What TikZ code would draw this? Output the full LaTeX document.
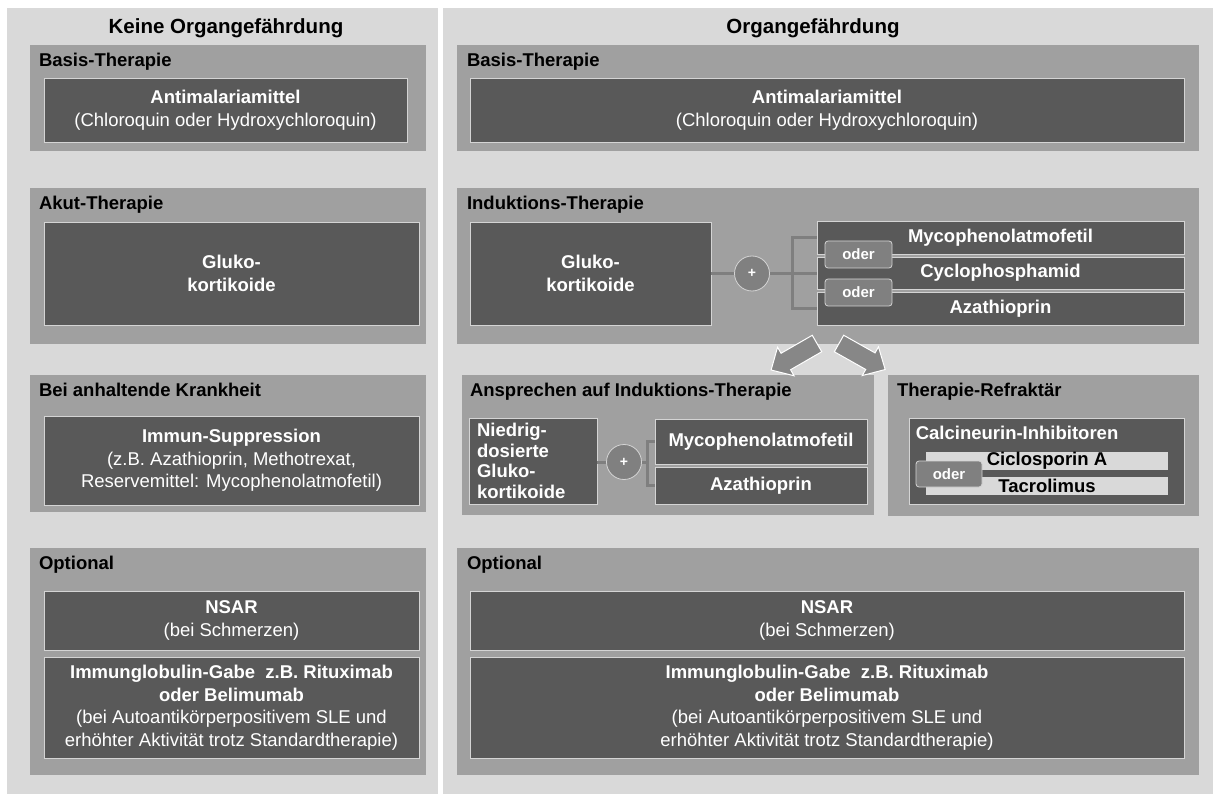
\documentclass[tikz,border=0pt]{standalone}
\usepackage{fontspec}
\setmainfont{Liberation Sans}
\definecolor{pagegray}{HTML}{D9D9D9}
\definecolor{secgray}{HTML}{A0A0A0}
\definecolor{boxgray}{HTML}{595959}
\definecolor{rimgray}{HTML}{D4D4D4}
\definecolor{odergray}{HTML}{808080}
\definecolor{wiregray}{HTML}{7F7F7F}
\definecolor{arrowgray}{HTML}{878787}
\newcommand{\txt}{\fontsize{18.5}{22.5}\selectfont}
\begin{document}
\begin{tikzpicture}[x=1pt,y=-1pt,
  every node/.style={inner sep=0pt,font=\txt},
  section/.style={fill=secgray},
  title/.style={anchor=base west,font=\txt\bfseries},
  drug/.style={draw=rimgray,fill=boxgray,line width=0.8pt,text=white,align=center},
  bar/.style={fill=pagegray,font=\txt\bfseries,minimum width=242pt,minimum height=18pt},
  oderbox/.style={draw=rimgray,fill=odergray,rounded corners=3pt,line width=0.8pt,text=white,font=\fontsize{15}{18}\selectfont\bfseries,minimum width=67pt,minimum height=27pt},
  plus/.style={circle,draw=rimgray,fill=odergray,line width=0.8pt,minimum size=35pt,text=white,font=\fontsize{14}{14}\selectfont\bfseries},
  wire/.style={wiregray,line width=3pt},
  blockarrow/.style={fill=arrowgray,draw=white,line width=1pt}]
\fill[white] (0,0) rectangle (1213,794);
\fill[pagegray] (7,8) rectangle (438,794);
\fill[pagegray] (443,8) rectangle (1213,794);
\node[font=\fontsize{20.5}{24}\selectfont\bfseries] (hKeine) at (226,28) {Keine Organgefährdung};
\node[font=\fontsize{20.5}{24}\selectfont\bfseries] (hOrgan) at (813,28) {Organgefährdung};

\node[section,minimum width=396pt,minimum height=106pt] (lBasis) at (228,98) {};
\node[section,minimum width=396pt,minimum height=156pt] (lAkut) at (228,266) {};
\node[section,minimum width=396pt,minimum height=137pt] (lAnh) at (228,443.5) {};
\node[section,minimum width=396pt,minimum height=227pt] (lOpt) at (228,661.5) {};
\node[section,minimum width=742pt,minimum height=106pt] (rBasis) at (828,98) {};
\node[section,minimum width=742pt,minimum height=156pt] (rInd) at (828,266) {};
\node[section,minimum width=412pt,minimum height=140pt] (rAns) at (668,445) {};
\node[section,minimum width=311pt,minimum height=141pt] (rRef) at (1043.5,445.5) {};
\node[section,minimum width=742pt,minimum height=227pt] (rOpt) at (828,661.5) {};

\node[title] at ([xshift=9pt,yshift=-22pt]lBasis.north west) {Basis-Therapie};
\node[title] at ([xshift=9pt,yshift=-22pt]lAkut.north west) {Akut-Therapie};
\node[title] at ([xshift=9pt,yshift=-22pt]lAnh.north west) {Bei anhaltende Krankheit};
\node[title] at ([xshift=9pt,yshift=-22pt]lOpt.north west) {Optional};
\node[title] at ([xshift=10pt,yshift=-22pt]rBasis.north west) {Basis-Therapie};
\node[title] at ([xshift=10pt,yshift=-22pt]rInd.north west) {Induktions-Therapie};
\node[title] at ([xshift=8pt,yshift=-22pt]rAns.north west) {Ansprechen auf Induktions-Therapie};
\node[title] at ([xshift=9pt,yshift=-22pt]rRef.north west) {Therapie-Refraktär};
\node[title] at ([xshift=10pt,yshift=-22pt]rOpt.north west) {Optional};

\node[drug,minimum width=363pt,minimum height=64pt] (lAntimal) at (225.5,110) {\textbf{Antimalariamittel}\\(Chloroquin oder Hydroxychloroquin)};
\node[drug,minimum width=375pt,minimum height=103pt,font=\txt\bfseries] (lGluko) at (231.5,273.5) {Gluko-\\kortikoide};
\node[drug,minimum width=375pt,minimum height=89pt] (lImmun) at (231.5,460.5) {\textbf{Immun-Suppression}\\(z.B. Azathioprin, Methotrexat,\\Reservemittel: Mycophenolatmofetil)};
\node[drug,minimum width=375pt,minimum height=59pt] (lNsar) at (231.5,620.5) {\textbf{NSAR}\\(bei Schmerzen)};
\node[drug,minimum width=375pt,minimum height=101pt] (lIg) at (231.5,707.5) {\textbf{Immunglobulin-Gabe\ \ z.B. Rituximab}\\\textbf{oder Belimumab}\\(bei Autoantikörperpositivem SLE und\\erhöhter Aktivität trotz Standardtherapie)};

\node[drug,minimum width=714pt,minimum height=64pt] (rAntimal) at (827,110) {\textbf{Antimalariamittel}\\(Chloroquin oder Hydroxychloroquin)};
\node[drug,minimum width=241pt,minimum height=103pt,font=\txt\bfseries] (rGluko) at (590.5,273.5) {Gluko-\\kortikoide};
\node[drug,minimum width=367pt,minimum height=33pt,font=\txt\bfseries] (rMyco) at (1000.5,237.5) {Mycophenolatmofetil};
\node[drug,minimum width=367pt,minimum height=32pt,font=\txt\bfseries] (rCyclo) at (1000.5,273) {Cyclophosphamid};
\node[drug,minimum width=367pt,minimum height=33pt,font=\txt\bfseries] (rAza) at (1000.5,308.5) {Azathioprin};
\node[plus] (plusInd) at (752,273.5) {+};
\coordinate (forkInd) at (792,273.5);
\draw[wire] (rGluko.east) -- (plusInd.west);
\draw[wire] (plusInd.east) -- (rCyclo.west |- plusInd);
\draw[wire] (rMyco.west) -| (forkInd) |- (rAza.west);
\node[oderbox] (oderA) at (858.5,254.5) {oder};
\node[oderbox] (oderB) at (858.5,292.5) {oder};

\node[drug,align=left,text width=112pt,inner xsep=8pt,minimum height=86pt,font=\fontsize{18.5}{20.5}\selectfont\bfseries] (rNied) at (533,461) {Niedrig-\\dosierte\\Gluko-\\kortikoide};
\node[drug,minimum width=212pt,minimum height=45pt,font=\txt\bfseries] (rMycoB) at (761,441.5) {Mycophenolatmofetil};
\node[drug,minimum width=212pt,minimum height=37pt,font=\txt\bfseries] (rAzaB) at (761,485.5) {Azathioprin};
\node[plus] (plusAns) at (624,462) {+};
\coordinate (forkAns) at (647,462);
\draw[wire] (rNied.east |- plusAns) -- (plusAns.west);
\draw[wire] (plusAns.east) -- (forkAns);
\draw[wire] (rMycoB.west) -| (forkAns) |- (rAzaB.west);

\node[drug,minimum width=275pt,minimum height=86pt] (rCalc) at (1046.5,461) {};
\node[anchor=base west,text=white,font=\txt\bfseries] at ([xshift=7pt,yshift=-22pt]rCalc.north west) {Calcineurin-Inhibitoren};
\node[bar] (rCiclo) at (1047,461) {Ciclosporin A};
\node[bar] (rTacro) at (1047,486) {Tacrolimus};
\node[oderbox,minimum width=66pt,minimum height=26pt] (oderC) at (949,474) {oder};

\node[drug,minimum width=714pt,minimum height=59pt] (rNsar) at (827,620.5) {\textbf{NSAR}\\(bei Schmerzen)};
\node[drug,minimum width=714pt,minimum height=101pt] (rIg) at (827,707.5) {\textbf{Immunglobulin-Gabe\ \ z.B. Rituximab}\\\textbf{oder Belimumab}\\(bei Autoantikörperpositivem SLE und\\erhöhter Aktivität trotz Standardtherapie)};

\begin{scope}[shift={(817,343.5)},rotate=210]
\filldraw[blockarrow] (0,-9.5) -- (36,-9.5) -- (36,-16.5) -- (53,0) -- (36,16.5) -- (36,9.5) -- (0,9.5) -- cycle;
\end{scope}
\begin{scope}[shift={(839,343.5)},rotate=-29.4]
\filldraw[blockarrow] (0,-9.5) -- (36,-9.5) -- (36,-16.5) -- (53,0) -- (36,16.5) -- (36,9.5) -- (0,9.5) -- cycle;
\end{scope}
\end{tikzpicture}
\end{document}
